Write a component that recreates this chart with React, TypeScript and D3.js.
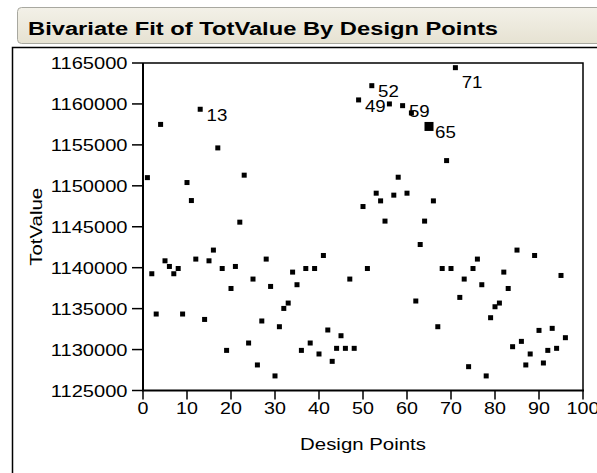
import React from "react";
import * as d3 from "d3";

const designPoints = d3.range(1, 97);
const totValue = [
  1151000, 1139260, 1134340, 1157500, 1140840, 1140150, 1139260, 1139900, 1134340, 1150400,
  1148200, 1141050, 1159350, 1133680, 1140840, 1142150, 1154630, 1139900, 1129900, 1137460,
  1140150, 1145560, 1151300, 1130800, 1138610, 1128120, 1133490, 1141050, 1137710, 1126780,
  1132790, 1135025, 1135680, 1139460, 1137920, 1129900, 1139900, 1130800, 1139900, 1129460,
  1141490, 1132390, 1128560, 1130150, 1131690, 1130150, 1138610, 1130150, 1160490, 1147470,
  1139900, 1162230, 1149100, 1148160, 1145690, 1160000, 1148860, 1151050, 1159790, 1149100,
  1158900, 1135930, 1142830, 1145690, 1157250, 1148160, 1132790, 1139900, 1153080, 1139900,
  1164430, 1136370, 1138610, 1127910, 1139900, 1141050, 1137920, 1126780, 1133890, 1135230,
  1135680, 1139460, 1137460, 1130350, 1142150, 1131000, 1128120, 1129460, 1141490, 1132340,
  1128360, 1129900, 1132590, 1130150, 1139050, 1131450,
];
const labeledPoints = [13, 49, 52, 59, 65, 71];
const lowLabelPoints = [71];
const highlightedPoints = [65];
const xTicks = [0, 10, 20, 30, 40, 50, 60, 70, 80, 90, 100];
const yTicks = [1125000, 1130000, 1135000, 1140000, 1145000, 1150000, 1155000, 1160000, 1165000];
const title = "Bivariate Fit of TotValue By Design Points";
const xTitle = "Design Points";
const yTitle = "TotValue";

const W = 597;
const H = 473;
const plot = { left: 143, right: 583, top: 63, bottom: 390.5 };
const FONT = "'Liberation Sans', Arial, sans-serif";
const DIGIT_W = 10.95;

export default function App() {
  const x = d3.scaleLinear().domain([0, 100]).range([plot.left, plot.right]);
  const y = d3.scaleLinear().domain([1125000, 1165000]).range([plot.bottom, plot.top]);
  const pts = designPoints.map((d, i) => ({ d, v: totValue[i] }));

  return (
    <svg
      width={W}
      height={H}
      style={{ position: "absolute", left: 0, top: 0, background: "#fff" }}
      fontFamily={FONT}
    >
      <defs>
        <linearGradient id="tb" x1="0" y1="0" x2="0" y2="1">
          <stop offset="0" stopColor="#f3f1e8" />
          <stop offset="1" stopColor="#e6e2d2" />
        </linearGradient>
      </defs>
      {/* title bar */}
      <rect x={17.5} y={7.5} width={600} height={36} rx={4} fill="url(#tb)" stroke="#a8a8a0" strokeWidth={1} />
      <text
        x={28}
        y={35}
        fontSize={18}
        fontWeight="bold"
        fill="#000"
        textLength={470}
        lengthAdjust="spacingAndGlyphs"
      >
        {title}
      </text>
      {/* outer frame */}
      <path d={`M12.5,${H} V47.5 H${W}`} fill="none" stroke="#000" strokeWidth={1.5} />

      {/* plot frame */}
      <path
        d={`M${plot.left},${plot.top} H${plot.right} V${plot.bottom}`}
        fill="none"
        stroke="#000"
        strokeWidth={1.5}
      />
      <path
        d={`M${plot.left},${plot.top} V${plot.bottom} H${plot.right + 1}`}
        fill="none"
        stroke="#000"
        strokeWidth={2}
      />

      {/* y axis ticks */}
      {yTicks.map((t) => (
        <g key={t}>
          <line x1={plot.left - 11} x2={plot.left} y1={y(t)} y2={y(t)} stroke="#000" strokeWidth={1.5} />
          <text
            x={127.5}
            y={y(t) + 6}
            fontSize={16.5}
            textAnchor="end"
            textLength={String(t).length * DIGIT_W}
            lengthAdjust="spacingAndGlyphs"
          >
            {String(t)}
          </text>
        </g>
      ))}
      {/* x axis ticks */}
      {xTicks.map((t) => (
        <g key={t}>
          <line x1={x(t)} x2={x(t)} y1={plot.bottom} y2={plot.bottom + 9} stroke="#000" strokeWidth={1.5} />
          <text
            x={x(t)}
            y={414}
            fontSize={16.5}
            textAnchor="middle"
            textLength={String(t).length * DIGIT_W}
            lengthAdjust="spacingAndGlyphs"
          >
            {String(t)}
          </text>
        </g>
      ))}

      {/* axis titles */}
      <text
        transform={`translate(${(plot.left + plot.right) / 2},450) scale(1.2,1)`}
        fontSize={17}
        textAnchor="middle"
      >
        {xTitle}
      </text>
      <text
        transform={`translate(42,${(plot.top + plot.bottom) / 2}) rotate(-90) scale(1.2,1)`}
        fontSize={17}
        textAnchor="middle"
      >
        {yTitle}
      </text>

      {/* points */}
      {pts.map((p) => {
        const s = highlightedPoints.includes(p.d) ? 9 : 5;
        return (
          <rect key={p.d} x={x(p.d) - s / 2} y={y(p.v) - s / 2} width={s} height={s} fill="#000" />
        );
      })}
      {/* labels */}
      {pts
        .filter((p) => labeledPoints.includes(p.d))
        .map((p) => {
          const big = highlightedPoints.includes(p.d);
          const dy = lowLabelPoints.includes(p.d) ? 20.5 : 11.8;
          const s = String(p.d);
          return (
            <text
              key={"l" + p.d}
              x={x(p.d) + (big ? 6 : 6.3)}
              y={y(p.v) + dy}
              fontSize={16.5}
              textLength={s.length * 10.4}
              lengthAdjust="spacingAndGlyphs"
            >
              {s}
            </text>
          );
        })}
    </svg>
  );
}
